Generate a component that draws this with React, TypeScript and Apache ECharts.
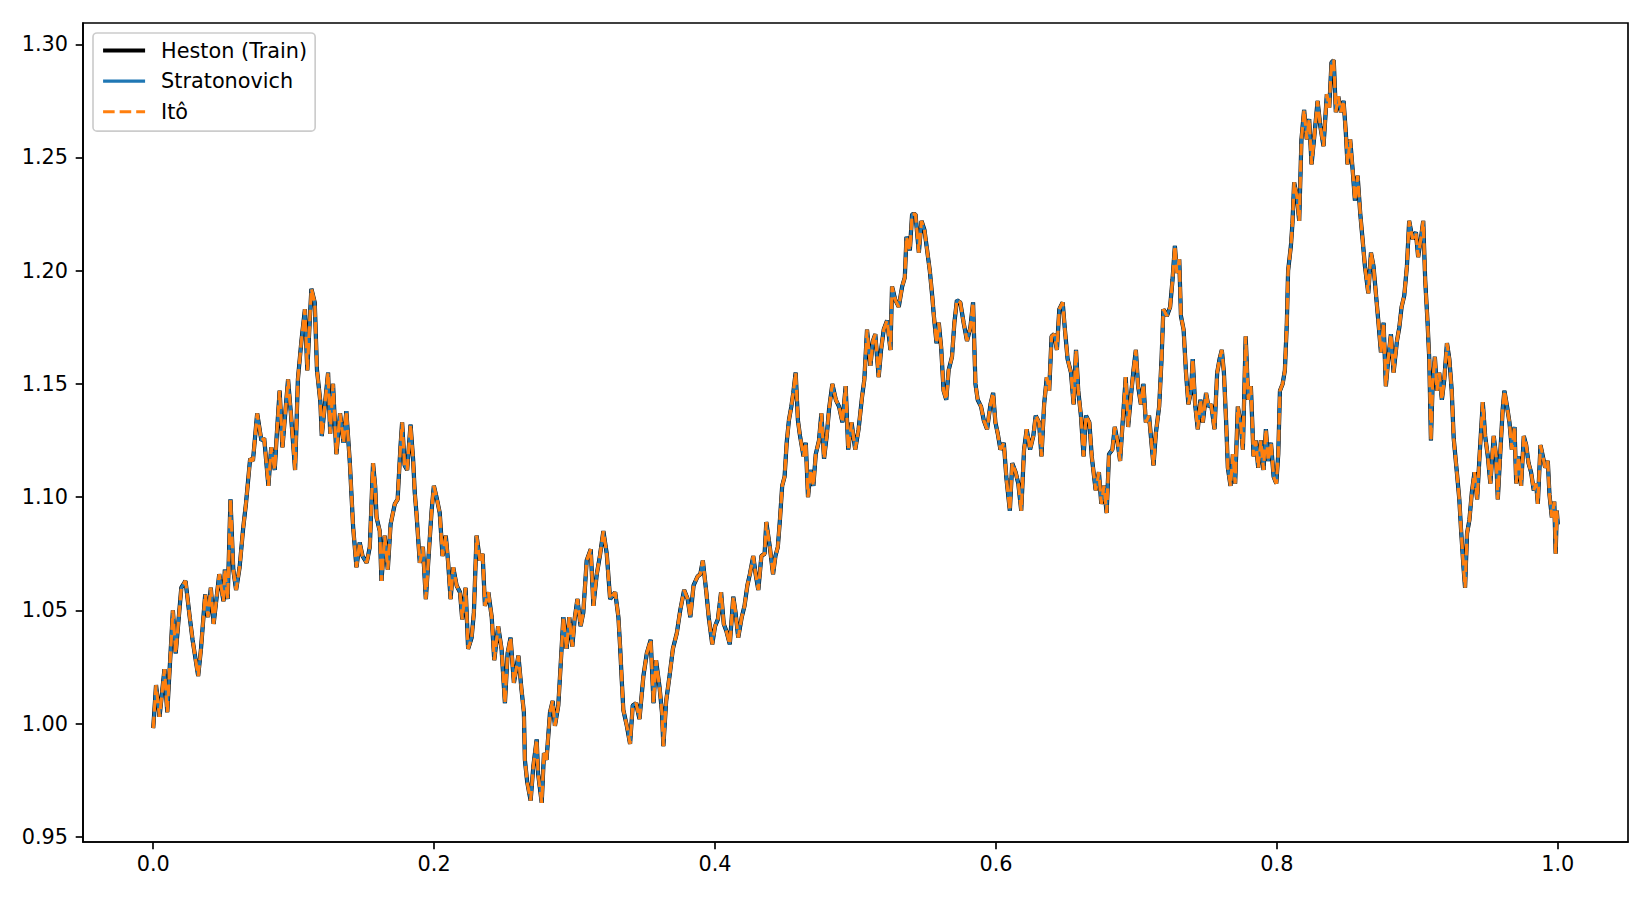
import React, { useEffect, useRef } from "react";
import * as echarts from "echarts";

// time grid (x) and simulated paths (y)
const timeGrid = [
  0.000, 0.002, 0.0045, 0.008, 0.010, 0.014, 0.016, 0.020, 0.023, 0.026,
  0.028, 0.032, 0.034, 0.037, 0.039, 0.041, 0.043, 0.047, 0.050, 0.051,
  0.053, 0.055, 0.057, 0.059, 0.0615, 0.064, 0.066, 0.069, 0.071, 0.074,
  0.077, 0.079, 0.082, 0.084, 0.0865, 0.088, 0.090, 0.092, 0.096, 0.098,
  0.101, 0.103, 0.1055, 0.108, 0.1097, 0.1116, 0.1126, 0.115, 0.1166, 0.119,
  0.120, 0.1245, 0.126, 0.128, 0.1304, 0.133, 0.1355, 0.1375, 0.140, 0.1423,
  0.1447, 0.147, 0.149, 0.152, 0.1542, 0.1565, 0.158, 0.159, 0.1613, 0.1625,
  0.1648, 0.167, 0.169, 0.172, 0.174, 0.176, 0.1772, 0.179, 0.1808, 0.1832,
  0.185, 0.1862, 0.1874, 0.1898, 0.192, 0.1941, 0.1965, 0.1982, 0.1998, 0.2017,
  0.204, 0.206, 0.2083, 0.210, 0.2117, 0.2136, 0.216, 0.2184, 0.220, 0.2224,
  0.2242, 0.2267, 0.2283, 0.2302, 0.2326, 0.2345, 0.2362, 0.2386, 0.241, 0.2428,
  0.2456, 0.248, 0.2504, 0.2523, 0.2544, 0.2568, 0.260, 0.2622, 0.2639, 0.2646,
  0.2663, 0.2687, 0.2706, 0.273, 0.274, 0.2766, 0.2782, 0.280, 0.2825, 0.2844,
  0.286, 0.2884, 0.290, 0.292, 0.2943, 0.2962, 0.2984, 0.300, 0.302, 0.3043,
  0.3062, 0.3086, 0.3115, 0.3134, 0.3158, 0.318, 0.3205, 0.3229, 0.3253, 0.3289,
  0.3312, 0.3324, 0.3336, 0.3347, 0.3372, 0.3395, 0.3414, 0.3438, 0.3462, 0.349,
  0.3514, 0.3542, 0.3562, 0.358, 0.3605, 0.3622, 0.3632, 0.3652, 0.3676, 0.370,
  0.3728, 0.3752, 0.378, 0.3805, 0.3824, 0.3847, 0.3876, 0.3895, 0.3913, 0.3938,
  0.3955, 0.398, 0.400, 0.402, 0.4043, 0.4062, 0.408, 0.4105, 0.413, 0.4146,
  0.4165, 0.419, 0.421, 0.423, 0.4248, 0.4272, 0.4289, 0.4308, 0.433, 0.4353,
  0.4365, 0.439, 0.4413, 0.443, 0.4447, 0.4462, 0.4478, 0.4495, 0.451, 0.4526,
  0.4543, 0.4557, 0.4574, 0.459, 0.4605, 0.463, 0.4646, 0.4662, 0.4681, 0.470,
  0.4717, 0.474, 0.4757, 0.4776, 0.4795, 0.4812, 0.4835, 0.486, 0.4883, 0.4907,
  0.493, 0.4948, 0.4972, 0.4998, 0.5022, 0.5046, 0.5063, 0.5082, 0.5106, 0.5124,
  0.5141, 0.5165, 0.5182, 0.5201, 0.5225, 0.5249, 0.526, 0.5284, 0.5308, 0.5332,
  0.5351, 0.5363, 0.5387, 0.5403, 0.5427, 0.5451, 0.547, 0.5491, 0.551, 0.5529,
  0.5546, 0.5558, 0.5577, 0.5593, 0.561, 0.5627, 0.5646, 0.5663, 0.5687, 0.5704,
  0.5722, 0.5746, 0.577, 0.5794, 0.5818, 0.5837, 0.5854, 0.587, 0.5894, 0.5913,
  0.5937, 0.5961, 0.598, 0.5996, 0.6013, 0.6032, 0.6056, 0.6075, 0.6099, 0.6116,
  0.614, 0.6159, 0.618, 0.620, 0.6219, 0.6243, 0.6266, 0.6283, 0.6307, 0.6324,
  0.6343, 0.6362, 0.6379, 0.6396, 0.6415, 0.6434, 0.6451, 0.6475, 0.6491, 0.651,
  0.6534, 0.6553, 0.657, 0.6586, 0.6605, 0.6624, 0.6641, 0.6665, 0.6682, 0.671,
  0.6733, 0.675, 0.6769, 0.6788, 0.6805, 0.6829, 0.6846, 0.6864, 0.6884, 0.690,
  0.6924, 0.6941, 0.696, 0.6979, 0.6996, 0.7012, 0.7032, 0.705, 0.7067, 0.709,
  0.7107, 0.7122, 0.7138, 0.7162, 0.7179, 0.7192, 0.7217, 0.724, 0.7257, 0.7274,
  0.7288, 0.7305, 0.7317, 0.7336, 0.7353, 0.737, 0.7389, 0.7401, 0.7418, 0.7437,
  0.7456, 0.7473, 0.7496, 0.7513, 0.7532, 0.7556, 0.7575, 0.7592, 0.7608, 0.7623,
  0.7639, 0.7651, 0.767, 0.7687, 0.7703, 0.7722, 0.7741, 0.7758, 0.7778, 0.7796,
  0.7815, 0.7834, 0.785, 0.7867, 0.7886, 0.7905, 0.7922, 0.7938, 0.7958, 0.7977,
  0.7996, 0.801, 0.8022, 0.8041, 0.8057, 0.8071, 0.808, 0.810, 0.8111, 0.8123,
  0.8142, 0.8159, 0.8175, 0.8194, 0.8213, 0.823, 0.8247, 0.8266, 0.829, 0.8309,
  0.8332, 0.8356, 0.8373, 0.8389, 0.8405, 0.842, 0.8437, 0.8456, 0.8475, 0.8491,
  0.8503, 0.8522, 0.8539, 0.8556, 0.8575, 0.8594, 0.861, 0.8627, 0.8651, 0.867,
  0.8688, 0.8705, 0.8722, 0.8741, 0.876, 0.8776, 0.8793, 0.8812, 0.8831, 0.8855,
  0.8872, 0.8888, 0.8907, 0.8926, 0.8942, 0.8966, 0.899, 0.9006, 0.9025, 0.9042,
  0.9056, 0.9073, 0.9085, 0.9097, 0.9109, 0.9125, 0.914, 0.9156, 0.9175, 0.9192,
  0.9211, 0.9228, 0.9245, 0.9259, 0.9283, 0.9299, 0.9311, 0.933, 0.934, 0.9354,
  0.9371, 0.9388, 0.9407, 0.9426, 0.9442, 0.9466, 0.9483, 0.9502, 0.952, 0.9544,
  0.9561, 0.9573, 0.9592, 0.9608, 0.962, 0.9639, 0.9656, 0.9673, 0.9692, 0.9704,
  0.972, 0.9739, 0.9758, 0.9775, 0.9792, 0.981, 0.9829, 0.9846, 0.9858, 0.9877,
  0.9894, 0.991, 0.9929, 0.9941, 0.9958, 0.9975, 0.9985, 0.9993, 1.000,
];

const hestonPath = [
  0.998, 1.017, 1.003, 1.024, 1.005, 1.050, 1.031, 1.060, 1.063, 1.047,
  1.037, 1.021, 1.033, 1.057, 1.047, 1.060, 1.044, 1.066, 1.054, 1.068,
  1.055, 1.099, 1.068, 1.059, 1.069, 1.086, 1.097, 1.117, 1.116, 1.137,
  1.125, 1.126, 1.105, 1.122, 1.112, 1.128, 1.147, 1.122, 1.152, 1.137,
  1.112, 1.152, 1.169, 1.183, 1.156, 1.180, 1.192, 1.186, 1.156, 1.142,
  1.127, 1.155, 1.128, 1.150, 1.119, 1.137, 1.124, 1.138, 1.115, 1.087,
  1.069, 1.080, 1.074, 1.071, 1.078, 1.115, 1.105, 1.091, 1.085, 1.063,
  1.083, 1.068, 1.088, 1.097, 1.099, 1.122, 1.133, 1.114, 1.112, 1.132,
  1.117, 1.102, 1.093, 1.071, 1.078, 1.055, 1.078, 1.094, 1.105, 1.100,
  1.093, 1.074, 1.083, 1.071, 1.055, 1.069, 1.061, 1.058, 1.046, 1.060,
  1.033, 1.038, 1.049, 1.083, 1.072, 1.075, 1.052, 1.058, 1.047, 1.028,
  1.043, 1.033, 1.009, 1.031, 1.038, 1.018, 1.030, 1.015, 1.005, 0.984,
  0.974, 0.966, 0.981, 0.993, 0.978, 0.965, 0.987, 0.984, 1.005, 1.010,
  0.999, 1.008, 1.025, 1.047, 1.033, 1.047, 1.034, 1.046, 1.055, 1.043,
  1.049, 1.072, 1.077, 1.052, 1.066, 1.074, 1.085, 1.075, 1.055, 1.058,
  1.047, 1.034, 1.019, 1.006, 0.999, 0.991, 1.008, 1.009, 1.002, 1.021,
  1.031, 1.037, 1.009, 1.028, 1.016, 1.005, 0.990, 1.010, 1.021, 1.033,
  1.040, 1.050, 1.059, 1.055, 1.047, 1.061, 1.065, 1.066, 1.072, 1.058,
  1.047, 1.035, 1.043, 1.046, 1.058, 1.044, 1.041, 1.035, 1.056, 1.049,
  1.038, 1.047, 1.052, 1.061, 1.066, 1.074, 1.066, 1.059, 1.074, 1.075,
  1.089, 1.078, 1.066, 1.074, 1.078, 1.090, 1.105, 1.109, 1.124, 1.134,
  1.140, 1.146, 1.155, 1.134, 1.127, 1.118, 1.124, 1.100, 1.112, 1.105,
  1.119, 1.125, 1.137, 1.117, 1.127, 1.139, 1.150, 1.143, 1.140, 1.133,
  1.149, 1.121, 1.133, 1.121, 1.130, 1.144, 1.152, 1.174, 1.158, 1.169,
  1.172, 1.153, 1.165, 1.174, 1.178, 1.165, 1.193, 1.187, 1.184, 1.193,
  1.197, 1.215, 1.209, 1.225, 1.225, 1.208, 1.222, 1.218, 1.209, 1.200,
  1.189, 1.180, 1.168, 1.177, 1.166, 1.147, 1.143, 1.156, 1.162, 1.177,
  1.187, 1.186, 1.177, 1.169, 1.175, 1.186, 1.150, 1.143, 1.140, 1.134,
  1.130, 1.141, 1.146, 1.133, 1.128, 1.121, 1.124, 1.108, 1.094, 1.115,
  1.111, 1.106, 1.094, 1.121, 1.130, 1.121, 1.127, 1.136, 1.133, 1.118,
  1.141, 1.153, 1.147, 1.171, 1.172, 1.165, 1.183, 1.186, 1.174, 1.161,
  1.155, 1.141, 1.165, 1.147, 1.136, 1.118, 1.136, 1.133, 1.118, 1.103,
  1.111, 1.097, 1.105, 1.093, 1.119, 1.121, 1.131, 1.125, 1.116, 1.131,
  1.153, 1.131, 1.144, 1.156, 1.165, 1.149, 1.141, 1.150, 1.133, 1.136,
  1.124, 1.114, 1.128, 1.140, 1.161, 1.183, 1.180, 1.184, 1.196, 1.211,
  1.199, 1.205, 1.180, 1.174, 1.155, 1.141, 1.147, 1.161, 1.141, 1.130,
  1.143, 1.133, 1.146, 1.140, 1.141, 1.130, 1.155, 1.161, 1.165, 1.155,
  1.133, 1.113, 1.105, 1.119, 1.106, 1.140, 1.133, 1.121, 1.171, 1.143,
  1.149, 1.118, 1.125, 1.113, 1.125, 1.112, 1.130, 1.116, 1.124, 1.109,
  1.106, 1.119, 1.147, 1.150, 1.156, 1.177, 1.200, 1.211, 1.221, 1.239,
  1.233, 1.222, 1.258, 1.271, 1.258, 1.267, 1.247, 1.259, 1.275, 1.264,
  1.255, 1.278, 1.272, 1.292, 1.293, 1.270, 1.277, 1.270, 1.275, 1.261,
  1.247, 1.258, 1.245, 1.231, 1.242, 1.225, 1.214, 1.202, 1.190, 1.208,
  1.202, 1.190, 1.178, 1.164, 1.177, 1.149, 1.161, 1.172, 1.155, 1.169,
  1.175, 1.184, 1.189, 1.202, 1.222, 1.214, 1.217, 1.206, 1.214, 1.222,
  1.196, 1.177, 1.161, 1.125, 1.150, 1.162, 1.147, 1.155, 1.143, 1.152,
  1.168, 1.161, 1.147, 1.126, 1.110, 1.099, 1.086, 1.068, 1.060, 1.084,
  1.090, 1.102, 1.111, 1.099, 1.117, 1.142, 1.127, 1.118, 1.106, 1.127,
  1.118, 1.099, 1.121, 1.139, 1.147, 1.140, 1.133, 1.121, 1.131, 1.106,
  1.118, 1.105, 1.127, 1.123, 1.115, 1.111, 1.103, 1.106, 1.097, 1.123,
  1.118, 1.113, 1.116, 1.101, 1.091, 1.098, 1.075, 1.094, 1.088,
];

// the two discretisations overlay the training path
const stratonovichPath = hestonPath;
const itoPath = hestonPath;

const seriesNames = ["Heston (Train)", "Stratonovich", "Itô"];
const xTickValues = [0.0, 0.2, 0.4, 0.6, 0.8, 1.0];
const yTickValues = [0.95, 1.0, 1.05, 1.1, 1.15, 1.2, 1.25, 1.3];

const FONT = "DejaVu Sans";
const FONT_SIZE = 20.8;

export default function App() {
  const ref = useRef<HTMLDivElement>(null);

  useEffect(() => {
    if (!ref.current) return;
    const chart = echarts.init(ref.current, undefined, { renderer: "svg" });
    const pairs = (ys: number[]) => timeGrid.map((t, i) => [t, ys[i]]);

    chart.setOption({
      animation: false,
      backgroundColor: "#ffffff",
      grid: {
        left: 83,
        top: 23,
        width: 1545,
        height: 819,
        show: true,
        borderColor: "#000000",
        borderWidth: 1.67,
        backgroundColor: "transparent",
        containLabel: false,
      },
      xAxis: {
        type: "value",
        min: -0.05,
        max: 1.05,
        splitLine: { show: false },
        axisLine: { show: true, onZero: false, lineStyle: { color: "#000", width: 1.67 } },
        axisTick: {
          show: true,
          length: 7.3,
          customValues: xTickValues,
          lineStyle: { color: "#000", width: 1.67 },
        },
        axisLabel: {
          customValues: xTickValues,
          formatter: (v: number) => v.toFixed(1),
          color: "#000",
          fontSize: FONT_SIZE,
          fontFamily: FONT,
          margin: 11,
        },
      },
      yAxis: {
        type: "value",
        min: 0.9477,
        max: 1.3094,
        splitLine: { show: false },
        axisLine: { show: true, onZero: false, lineStyle: { color: "#000", width: 1.67 } },
        axisTick: {
          show: true,
          length: 7.3,
          customValues: yTickValues,
          lineStyle: { color: "#000", width: 1.67 },
        },
        axisLabel: {
          customValues: yTickValues,
          formatter: (v: number) => v.toFixed(2),
          color: "#000",
          fontSize: FONT_SIZE,
          fontFamily: FONT,
          margin: 15,
        },
      },
      legend: {
        orient: "vertical",
        left: 93,
        top: 33,
        padding: [7, 8, 9, 8],
        itemWidth: 42,
        itemHeight: 14,
        itemGap: 9.6,
        backgroundColor: "rgba(255,255,255,0.8)",
        borderColor: "#cccccc",
        borderWidth: 1.67,
        borderRadius: 4,
        selectedMode: false,
        data: seriesNames,
        itemStyle: { opacity: 0, borderWidth: 0 },
        lineStyle: { width: "inherit", type: "inherit", opacity: 1 },
        textStyle: {
          color: "#000",
          fontSize: FONT_SIZE,
          fontFamily: FONT,
          lineHeight: 20,
          padding: [0, 0, 0, 11],
        },
      },
      series: [
        {
          name: seriesNames[0],
          type: "line",
          data: pairs(hestonPath),
          showSymbol: false,
          symbol: "none",
          silent: true,
          z: 2,
          lineStyle: { color: "#000000", width: 4.17 },
          itemStyle: { color: "#000000" },
        },
        {
          name: seriesNames[1],
          type: "line",
          data: pairs(stratonovichPath),
          showSymbol: false,
          symbol: "none",
          silent: true,
          z: 3,
          lineStyle: { color: "#1f77b4", width: 3.125 },
          itemStyle: { color: "#1f77b4" },
        },
        {
          name: seriesNames[2],
          type: "line",
          data: pairs(itoPath),
          showSymbol: false,
          symbol: "none",
          silent: true,
          z: 4,
          lineStyle: { color: "#ff7f0e", width: 3.125, type: [11.56, 5] },
          itemStyle: { color: "#ff7f0e" },
        },
      ],
    });

    return () => chart.dispose();
  }, []);

  return (
    <div
      ref={ref}
      style={{ position: "absolute", left: 0, top: 0, width: 1650, height: 900, background: "#fff" }}
    />
  );
}
